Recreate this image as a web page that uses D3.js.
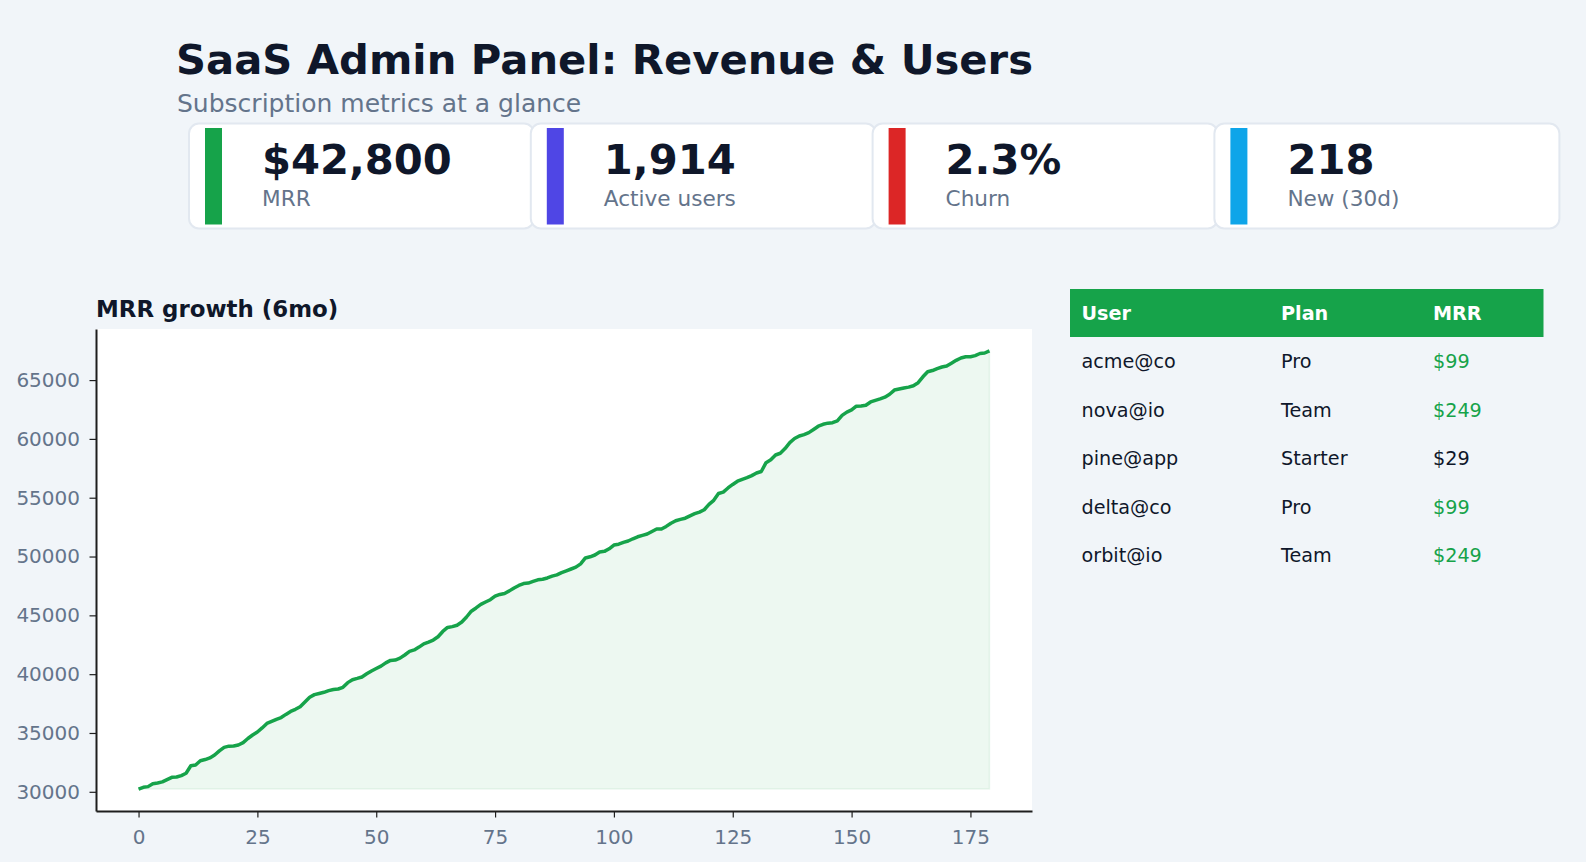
<!DOCTYPE html>
<html>
<head>
<meta charset="utf-8">
<script src="https://cdn.jsdelivr.net/npm/d3@7"></script>
<style>
  body { margin: 0; background: #f1f5f9; }
  svg text { font-family: "DejaVu Sans", sans-serif; }
</style>
</head>
<body>
<div id="my_dataviz"></div>
<script>
// KPI cards
var kpiValues = ["$42,800", "1,914", "2.3%", "218"];
var kpiLabels = ["MRR", "Active users", "Churn", "New (30d)"];
var kpiColors = ["#16a34a", "#4f46e5", "#dc2626", "#0ea5e9"];

// MRR per day, 180 days
var mrrDays = d3.range(180);
var mrrValues = [
  30230, 30380, 30440, 30690, 30750, 30840, 31030, 31230, 31260, 31380,
  31580, 32210, 32280, 32640, 32740, 32880, 33130, 33480, 33780, 33880,
  33890, 33980, 34180, 34530, 34830, 35080, 35430, 35810, 35980, 36160,
  36310, 36580, 36830, 37010, 37230, 37630, 38030, 38260, 38360, 38460,
  38600, 38700, 38740, 38880, 39280, 39530, 39640, 39760, 40030, 40270,
  40480, 40680, 40960, 41170, 41200, 41360, 41630, 41940, 42060, 42300,
  42580, 42730, 42900, 43180, 43630, 43970, 44040, 44160, 44430, 44860,
  45350, 45630, 45930, 46130, 46330, 46630, 46780, 46860, 47080, 47330,
  47540, 47700, 47740, 47880, 48020, 48070, 48180, 48330, 48440, 48630,
  48780, 48940, 49100, 49380, 49880, 49980, 50130, 50390, 50440, 50660,
  50980, 51050, 51200, 51320, 51510, 51680, 51800, 51910, 52130, 52340,
  52340, 52560, 52830, 53040, 53160, 53260, 53460, 53640, 53780, 53980,
  54430, 54780, 55360, 55480, 55830, 56130, 56400, 56560, 56700, 56880,
  57100, 57230, 57980, 58220, 58630, 58780, 59180, 59680, 60030, 60250,
  60360, 60530, 60800, 61080, 61240, 61340, 61380, 61540, 62000, 62280,
  62460, 62780, 62800, 62860, 63140, 63280, 63400, 63550, 63800, 64150,
  64240, 64330, 64400, 64520, 64780, 65280, 65710, 65810, 65980, 66110,
  66190, 66430, 66680, 66880, 66980, 66980, 67080, 67260, 67300, 67480
];
var yTicks = [30000, 35000, 40000, 45000, 50000, 55000, 60000, 65000];
var xTicks = [0, 25, 50, 75, 100, 125, 150, 175];

// recent subscriptions table
var tableHeader = ["User", "Plan", "MRR"];
var tableUsers = ["acme@co", "nova@io", "pine@app", "delta@co", "orbit@io"];
var tablePlans = ["Pro", "Team", "Starter", "Pro", "Team"];
var tableMrr = [99, 249, 29, 99, 249];

const W = 1586, H = 862;
const green = "#16a34a", ink = "#0f172a", muted = "#64748b";

var svg = d3.select("#my_dataviz")
  .append("svg")
    .attr("width", W)
    .attr("height", H);

svg.append("rect").attr("width", W).attr("height", H).attr("fill", "#f1f5f9");

// Header
svg.append("text")
  .attr("x", 176).attr("y", 74)
  .attr("font-size", 41.7).attr("font-weight", "bold").attr("fill", ink)
  .text("SaaS Admin Panel: Revenue & Users");

svg.append("text")
  .attr("x", 177).attr("y", 111.5)
  .attr("font-size", 25).attr("fill", muted)
  .text("Subscription metrics at a glance");

// Cards
var cardX = d3.scaleLinear().domain([0, 1]).range([189, 530.8]);
var cards = svg.selectAll(".card")
  .data(kpiValues)
  .join("g")
  .attr("class", "card")
  .attr("transform", function(d, i) { return "translate(" + cardX(i) + ",123.5)"; });

cards.append("rect")
  .attr("width", 345).attr("height", 105)
  .attr("rx", 10)
  .attr("fill", "#fff")
  .attr("stroke", "#e2e8f0").attr("stroke-width", 2);

cards.append("rect")
  .attr("x", 16).attr("y", 4.5)
  .attr("width", 17).attr("height", 96.5)
  .attr("fill", function(d, i) { return kpiColors[i]; });

cards.append("text")
  .attr("x", 73).attr("y", 50.8)
  .attr("font-size", 41.7).attr("font-weight", "bold").attr("fill", ink)
  .text(function(d) { return d; });

cards.append("text")
  .attr("x", 73).attr("y", 82.5)
  .attr("font-size", 21.6).attr("fill", muted)
  .text(function(d, i) { return kpiLabels[i]; });

// Line chart
const plot = {left: 96, right: 1032, top: 329, bottom: 811};

var x = d3.scaleLinear()
  .domain([-8.95, 187.95])
  .range([plot.left, plot.right]);

var yMin = d3.min(mrrValues), yMax = d3.max(mrrValues), yPad = (yMax - yMin) * 0.05;
var y = d3.scaleLinear()
  .domain([yMin - yPad, yMax + yPad])
  .range([plot.bottom, plot.top]);

svg.append("rect")
  .attr("x", plot.left).attr("y", plot.top)
  .attr("width", plot.right - plot.left).attr("height", plot.bottom - plot.top)
  .attr("fill", "#fff");

svg.append("text")
  .attr("x", 96).attr("y", 316.5)
  .attr("font-size", 22.9).attr("font-weight", "bold").attr("fill", ink)
  .text("MRR growth (6mo)");

var area = d3.area()
  .x(function(d) { return x(d); })
  .y0(y(yMin))
  .y1(function(d) { return y(mrrValues[d]); });

svg.append("path")
  .datum(mrrDays)
  .attr("d", area)
  .attr("fill", "rgba(22,163,74,0.08)")
  .attr("stroke", "rgba(22,163,74,0.08)")
  .attr("stroke-width", 1.5);

var line = d3.line()
  .x(function(d) { return x(d); })
  .y(function(d) { return y(mrrValues[d]); });

svg.append("path")
  .datum(mrrDays)
  .attr("d", line)
  .attr("fill", "none")
  .attr("stroke", green)
  .attr("stroke-width", 3.5)
  .attr("stroke-linejoin", "round")
  .attr("stroke-linecap", "butt");

// Axes
var yAxis = svg.append("g")
  .attr("transform", "translate(" + plot.left + ",0)")
  .call(d3.axisLeft(y).tickValues(yTicks).tickFormat(d3.format("d")).tickSize(6.5).tickSizeOuter(0).tickPadding(9.5));

var xAxis = svg.append("g")
  .attr("transform", "translate(0," + plot.bottom + ")")
  .call(d3.axisBottom(x).tickValues(xTicks).tickSize(6.5).tickSizeOuter(0).tickPadding(12));

[xAxis, yAxis].forEach(function(ax) {
  ax.select(".domain").attr("stroke", "#1e1e1e").attr("stroke-width", 2);
  ax.selectAll(".tick line").attr("stroke", "#1e1e1e").attr("stroke-width", 1.2);
  ax.selectAll(".tick text")
    .attr("fill", muted)
    .attr("font-size", 20)
    .attr("font-family", "DejaVu Sans, sans-serif");
});

// Table
var colX = [1081.5, 1281, 1433];
svg.append("rect")
  .attr("x", 1070).attr("y", 289)
  .attr("width", 473.5).attr("height", 48)
  .attr("fill", green);

svg.selectAll(".th")
  .data(tableHeader)
  .join("text")
  .attr("class", "th")
  .attr("x", function(d, i) { return colX[i]; })
  .attr("y", 319.5)
  .attr("font-size", 19.2).attr("font-weight", "bold").attr("fill", "#fff")
  .text(function(d) { return d; });

var rowY = d3.scaleLinear().domain([0, 1]).range([368.3, 416.8]);
var rows = svg.selectAll(".row")
  .data(tableUsers)
  .join("g")
  .attr("class", "row")
  .attr("transform", function(d, i) { return "translate(0," + rowY(i) + ")"; })
  .attr("font-size", 19.2);

rows.append("text").attr("x", colX[0]).attr("fill", ink).text(function(d) { return d; });
rows.append("text").attr("x", colX[1]).attr("fill", ink).text(function(d, i) { return tablePlans[i]; });
rows.append("text").attr("x", colX[2])
  .attr("fill", function(d, i) { return tableMrr[i] >= 99 ? green : ink; })
  .text(function(d, i) { return "$" + tableMrr[i]; });
</script>
</body>
</html>
